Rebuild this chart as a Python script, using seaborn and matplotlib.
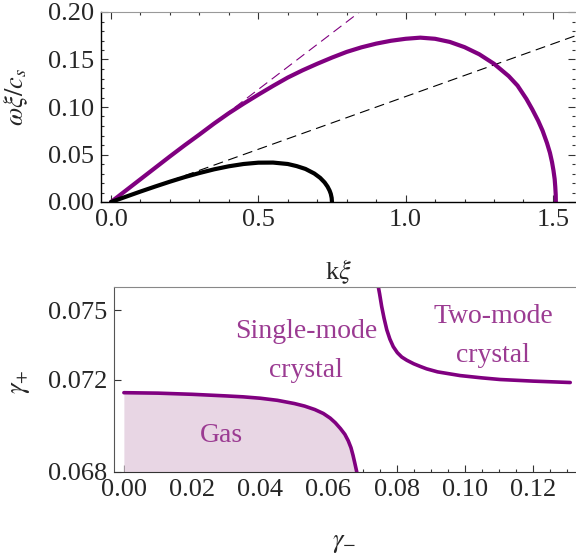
import matplotlib
matplotlib.use("Agg")
import matplotlib.pyplot as plt
import matplotlib.ticker as ticker
import numpy as np
import pandas as pd
import seaborn as sns

# dispersion curves (top panel)
k_purple = [0, 0.05, 0.1, 0.15, 0.2, 0.25, 0.3, 0.35, 0.4, 0.45, 0.5, 0.55, 0.6, 0.65,
            0.7, 0.75, 0.8, 0.85, 0.9, 0.95, 1.0, 1.05, 1.1, 1.15, 1.2, 1.25, 1.3, 1.35,
            1.38, 1.41, 1.43, 1.45, 1.465, 1.48, 1.49, 1.497, 1.502, 1.506, 1.508,
            1.5095, 1.51]
w_purple = [0, 0.012, 0.024, 0.036, 0.048, 0.0597, 0.071, 0.0826, 0.0935, 0.1035, 0.113,
            0.1222, 0.131, 0.1386, 0.1455, 0.152, 0.158, 0.1628, 0.1667, 0.1697, 0.1718,
            0.173, 0.1718, 0.1685, 0.163, 0.1555, 0.1455, 0.1325, 0.1225, 0.1085, 0.0975,
            0.0855, 0.075, 0.062, 0.0517, 0.042, 0.033, 0.024, 0.016, 0.008, 0]
k_black = [0, 0.05, 0.1, 0.15, 0.2, 0.25, 0.3, 0.35, 0.4, 0.45, 0.5, 0.55, 0.6, 0.63,
           0.66, 0.69, 0.71, 0.725, 0.735, 0.742, 0.746, 0.749, 0.75]
w_black = [0, 0.0055, 0.011, 0.0163, 0.0214, 0.0262, 0.0305, 0.0344, 0.0376, 0.04,
           0.0414, 0.0415, 0.04, 0.0378, 0.0348, 0.03, 0.0254, 0.0206, 0.0162, 0.012,
           0.0086, 0.0043, 0]
# sound lines (dashed)
k_dash_purple = [0, 0.9]
w_dash_purple = [0, 0.2133]
k_dash_black = [0, 1.6]
w_dash_black = [0, 0.1776]

# phase diagram (bottom panel)
gm_gas = [0, 0.01, 0.02, 0.03, 0.035, 0.04, 0.045, 0.05, 0.053, 0.056, 0.0585, 0.0605,
          0.062, 0.0635, 0.0648, 0.0658, 0.0666, 0.0672, 0.0677, 0.068, 0.0683]
gp_gas = [0.07143, 0.07141, 0.07136, 0.07129, 0.07125, 0.07119, 0.0711, 0.07096, 0.07085,
          0.0707, 0.07053, 0.07033, 0.07013, 0.06988, 0.06963, 0.06935, 0.06905, 0.06872,
          0.0684, 0.0682, 0.068]
gm_two = [0.0746, 0.075, 0.0756, 0.0763, 0.0771, 0.078, 0.079, 0.0802, 0.0815, 0.083,
          0.085, 0.087, 0.0888, 0.092, 0.0986, 0.105, 0.1103, 0.12, 0.1309]
gp_two = [0.07602, 0.0757, 0.07516, 0.07465, 0.07415, 0.07375, 0.07342, 0.07316, 0.07297,
          0.07283, 0.07268, 0.07256, 0.07246, 0.07233, 0.07217, 0.07207, 0.072, 0.07193,
          0.07187]

purple = '#800080'
text_purple = '#9b3b92'

sns.set_style('ticks')
plt.rcParams['font.family'] = ['Liberation Serif', 'DejaVu Serif']
plt.rcParams['mathtext.fontset'] = 'stix'
fs = 19

fig = plt.figure(figsize=(5.76, 5.59), dpi=100)
ax1 = fig.add_axes([101/576, 357/559, 474/576, 190/559])
ax2 = fig.add_axes([114/576, 87/559, 461/576, 185/559])

# ---- top panel
sns.lineplot(x=k_dash_purple, y=w_dash_purple, ax=ax1, color=purple, lw=0.8,
             sort=False, estimator=None)
ax1.lines[-1].set_dashes([9, 5])
sns.lineplot(x=k_dash_black, y=w_dash_black, ax=ax1, color='black', lw=0.8,
             sort=False, estimator=None)
ax1.lines[-1].set_dashes([9, 5])
sns.lineplot(x=k_purple, y=w_purple, ax=ax1, color=purple, lw=3,
             sort=False, estimator=None)
sns.lineplot(x=k_black, y=w_black, ax=ax1, color='black', lw=3,
             sort=False, estimator=None)

ax1.set_xlim(-0.034, 1.575)
ax1.set_ylim(0, 0.2)
ax1.xaxis.set_major_locator(ticker.MultipleLocator(0.5))
ax1.xaxis.set_minor_locator(ticker.MultipleLocator(0.1))
ax1.yaxis.set_major_locator(ticker.MultipleLocator(0.05))
ax1.yaxis.set_minor_locator(ticker.MultipleLocator(0.01))
ax1.xaxis.set_major_formatter(ticker.FormatStrFormatter('%.1f'))
ax1.yaxis.set_major_formatter(ticker.FormatStrFormatter('%.2f'))
ax1.tick_params(which='both', direction='in', top=True, right=True, labelsize=fs,
                width=0.8, color='#333333')
ax1.tick_params(which='major', length=5, pad=5)
ax1.tick_params(which='minor', length=2.5)
ax1.spines['top'].set_color('#999999')
ax1.spines['right'].set_visible(False)
for s in ['left', 'bottom']:
    ax1.spines[s].set_color('black')
    ax1.spines[s].set_linewidth(1)
ax1.set_xlabel(r'k$\xi$', fontsize=fs)
ax1.set_ylabel(r'$\omega\xi/c_s$', fontsize=fs)
ax1.xaxis.set_label_coords(0.5, -0.29)
ax1.yaxis.set_label_coords(-0.15, 0.55)

# ---- bottom panel
ax2.fill_between(gm_gas, 0.068, gp_gas, color='#e8d6e4', lw=0)
sns.lineplot(x=gm_gas, y=gp_gas, ax=ax2, color=purple, lw=2.6,
             sort=False, estimator=None)
sns.lineplot(x=gm_two, y=gp_two, ax=ax2, color=purple, lw=2.6,
             sort=False, estimator=None)

tfs = 20
ax2.text(0.0285, 0.0696, 'Gas', color=text_purple, fontsize=tfs, ha='center', va='center')
ax2.text(0.0534, 0.07324, 'Single-mode\ncrystal', color=text_purple, fontsize=tfs,
         ha='center', va='center', linespacing=1.75)
ax2.text(0.1083, 0.07389, 'Two-mode\ncrystal', color=text_purple, fontsize=tfs,
         ha='center', va='center', linespacing=1.75)

ax2.set_xlim(-0.0029, 0.1323)
ax2.set_ylim(0.068, 0.076)
ax2.set_xticks([0, 0.02, 0.04, 0.06, 0.08, 0.10, 0.12])
ax2.xaxis.set_minor_locator(ticker.MultipleLocator(0.005))
ax2.set_yticks([0.068, 0.072, 0.075])
ax2.xaxis.set_major_formatter(ticker.FormatStrFormatter('%.2f'))
ax2.yaxis.set_major_formatter(ticker.FormatStrFormatter('%.3f'))
ax2.tick_params(which='both', direction='in', labelsize=fs, width=0.8, color='#333333')
ax2.tick_params(which='major', length=5, pad=5)
ax2.tick_params(which='minor', length=2.5)
ax2.spines['right'].set_visible(False)
ax2.spines['top'].set_color('#888888')
ax2.spines['left'].set_color('#555555')
ax2.spines['bottom'].set_color('#333333')
ax2.set_xlabel(r'$\gamma_{-}$', fontsize=fs)
ax2.set_ylabel(r'$\gamma_{+}$', fontsize=fs)
ax2.xaxis.set_label_coords(0.5, -0.33)
ax2.yaxis.set_label_coords(-0.178, 0.486)

fig.savefig('out.png', dpi=100)
